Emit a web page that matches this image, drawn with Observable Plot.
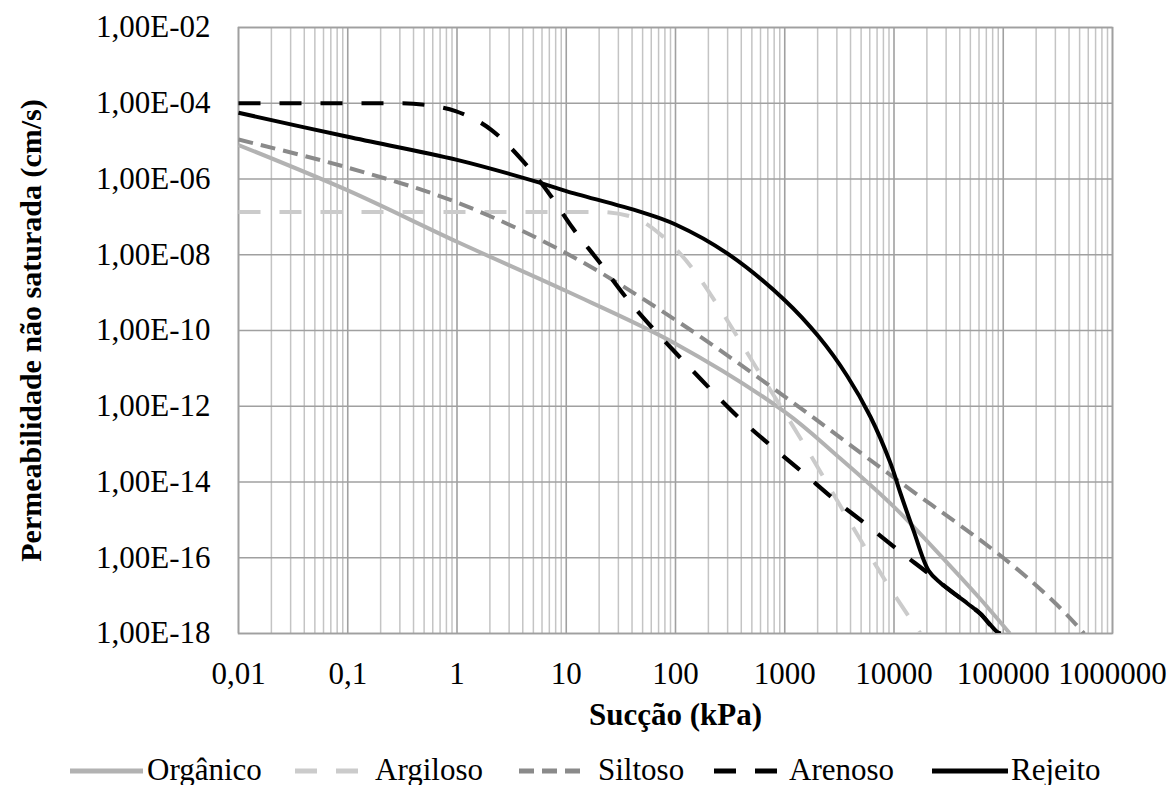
<!DOCTYPE html>
<html>
<head>
<meta charset="utf-8">
<script src="https://cdn.jsdelivr.net/npm/d3@7"></script>
<script src="https://cdn.jsdelivr.net/npm/@observablehq/plot@0.6"></script>
<style>
  html, body { margin: 0; padding: 0; background: #fff; }
  #chart { width: 1174px; }
  #legend { position: relative; width: 1174px; height: 40px; font-family: "Liberation Serif", "Times New Roman", serif; font-size: 31px; color: #000; }
  .item { position: absolute; top: 3px; height: 44px; display: flex; align-items: center; white-space: nowrap; }
  .item svg { position: relative; top: 1px; }
</style>
</head>
<body>
<div id="chart"></div>
<div id="legend"></div>
<script>
// ---- tick values and labels ----
const xTicks = [0.01, 0.1, 1, 10, 100, 1000, 10000, 100000, 1000000];
const xTickLabels = ["0,01", "0,1", "1", "10", "100", "1000", "10000", "100000", "1000000"];
const yTicks = [1e-2, 1e-4, 1e-6, 1e-8, 1e-10, 1e-12, 1e-14, 1e-16, 1e-18];
const yTickLabels = ["1,00E-02", "1,00E-04", "1,00E-06", "1,00E-08", "1,00E-10", "1,00E-12", "1,00E-14", "1,00E-16", "1,00E-18"];

// ---- series (suction kPa, permeability cm/s) ----
const seriesNames = ["Orgânico", "Argiloso", "Siltoso", "Arenoso", "Rejeito"];

const organicoX = [0.01, 0.1, 1, 10, 100, 1000, 3000, 10000, 30000, 60000, 115000];
const organicoY = [7.9e-6, 5.0e-7, 2.2e-8, 1.1e-9, 4.5e-11, 7.1e-13, 5.0e-14, 2.2e-15, 7.9e-17, 8.9e-18, 1e-18];

const argilosoX = [0.01, 20, 40, 75, 140, 230, 560, 1500, 3700, 9300, 17400];
const argilosoY = [1.35e-7, 1.35e-7, 1.0e-7, 3.2e-8, 4.7e-9, 5.9e-10, 9.5e-12, 1.0e-13, 1.2e-15, 1.5e-17, 1e-18];

const siltosoX = [0.01, 0.1, 1, 10, 100, 1000, 10000, 100000, 300000, 550000];
const siltosoY = [1.1e-5, 2.0e-6, 2.4e-7, 1.1e-8, 1.9e-10, 1.8e-12, 1.3e-14, 1.0e-16, 6.3e-18, 1e-18];

const arenosoX = [0.01, 0.3, 0.54, 0.97, 2.1, 4.0, 6.9, 11.5, 20, 34, 61, 111, 200, 380, 740, 1460, 2900, 5700, 11200, 21600, 27000, 47000, 62000, 88000, 95000];
const arenosoY = [1.0e-4, 1.0e-4, 8.9e-5, 6.2e-5, 1.9e-5, 3.0e-6, 4.3e-7, 5.0e-8, 6.5e-9, 8.5e-10, 1.2e-10, 1.9e-11, 3.2e-12, 5.0e-13, 9.3e-14, 1.8e-14, 3.3e-15, 7.2e-16, 1.5e-16, 3.5e-17, 2.1e-17, 6.2e-18, 3.3e-18, 1.1e-18, 1e-18];

const rejeitoX = [0.01, 0.1, 1, 5.8, 10, 48, 100, 300, 1000, 2050, 3730, 6100, 9300, 11500, 15100, 20800, 27000, 47000, 62000, 88000, 95000];
const rejeitoY = [5.6e-5, 1.3e-5, 3.2e-6, 7.9e-7, 4.8e-7, 1.35e-7, 6.3e-8, 1.07e-8, 6.3e-10, 6.8e-11, 6.3e-12, 5.2e-13, 3.1e-14, 4.9e-15, 5.2e-16, 4.5e-17, 2.1e-17, 6.2e-18, 3.3e-18, 1.1e-18, 1e-18];

// ---- styles ----
const styles = {
  "Orgânico": {stroke: "#b2b2b2", width: 4, dash: null, curve: "catmull-rom", sample: 73, gap: 4, left: 70},
  "Argiloso": {stroke: "#cbcbcb", width: 4, dash: "22,19", curve: "monotone-x", sample: 65, gap: 15, left: 295},
  "Siltoso":  {stroke: "#8a8a8a", width: 4, dash: "15,8", curve: "catmull-rom", sample: 64, gap: 15, left: 519},
  "Arenoso":  {stroke: "#000000", width: 4.2, dash: "22,19", curve: "monotone-x", sample: 63, gap: 12, left: 714},
  "Rejeito":  {stroke: "#000000", width: 4, dash: null, curve: "catmull-rom", sample: 76, gap: 3, left: 932}
};

const rawSeries = {
  "Orgânico": [organicoX, organicoY],
  "Argiloso": [argilosoX, argilosoY],
  "Siltoso": [siltosoX, siltosoY],
  "Arenoso": [arenosoX, arenosoY],
  "Rejeito": [rejeitoX, rejeitoY]
};
const tables = seriesNames.map(name => {
  const [xs, ys] = rawSeries[name];
  return {name, rows: xs.map((x, i) => ({x, y: ys[i]}))};
});

// minor vertical grid positions (2..9 per decade)
const minorX = d3.range(-2, 6).flatMap(e => d3.range(2, 10).map(k => k * Math.pow(10, e)));

const font = "'Liberation Serif', 'Times New Roman', serif";

const chart = Plot.plot({
  width: 1174,
  height: 745,
  marginLeft: 238,
  marginRight: 62,
  marginTop: 27,
  marginBottom: 112,
  style: {fontFamily: font, fontSize: "31px", color: "#000", background: "#fff", overflow: "visible"},
  x: {type: "log", domain: [0.01, 1000000]},
  y: {type: "log", domain: [1e-18, 1e-2]},
  marks: [
    Plot.ruleX(minorX, {stroke: "#c4c4c4", strokeWidth: 1.5}),
    Plot.ruleX(xTicks, {stroke: "#a0a0a0", strokeWidth: 1.6}),
    Plot.ruleY(yTicks, {stroke: "#a0a0a0", strokeWidth: 1.6}),
    Plot.frame({stroke: "#a0a0a0", strokeWidth: 1.6}),
    ...tables.map(t => Plot.line(t.rows, {
      x: "x", y: "y",
      stroke: styles[t.name].stroke,
      strokeWidth: styles[t.name].width,
      strokeDasharray: styles[t.name].dash,
      strokeLinecap: "butt",
      curve: styles[t.name].curve,
      clip: true
    })),
    Plot.axisX({ticks: xTicks, tickFormat: d => xTickLabels[xTicks.indexOf(d)], tickSize: 0, tickPadding: 28, label: null}),
    Plot.axisY({ticks: yTicks, tickFormat: d => yTickLabels[yTicks.indexOf(d)], tickSize: 0, tickPadding: 28, label: null}),
    Plot.text(["Sucção (kPa)"], {text: d => d, frameAnchor: "bottom", dy: 91, fontSize: 31, fontWeight: "bold"}),
    Plot.text(["Permeabilidade não saturada (cm/s)"], {text: d => d, frameAnchor: "left", textAnchor: "middle", rotate: -90, dx: -207, fontSize: 30, fontWeight: "bold"})
  ]
});
document.getElementById("chart").appendChild(chart);

// ---- legend ----
const legend = document.getElementById("legend");
seriesNames.forEach(name => {
  const s = styles[name];
  const item = document.createElement("div");
  item.className = "item";
  item.style.left = s.left + "px";
  const ns = "http://www.w3.org/2000/svg";
  const svg = document.createElementNS(ns, "svg");
  svg.setAttribute("width", s.sample);
  svg.setAttribute("height", 10);
  const line = document.createElementNS(ns, "line");
  line.setAttribute("x1", 0); line.setAttribute("x2", s.sample);
  line.setAttribute("y1", 5); line.setAttribute("y2", 5);
  line.setAttribute("stroke", s.stroke);
  line.setAttribute("stroke-width", s.width + 1);
  if (s.dash) line.setAttribute("stroke-dasharray", s.dash);
  svg.appendChild(line);
  const label = document.createElement("span");
  label.textContent = name;
  label.style.marginLeft = s.gap + "px";
  item.appendChild(svg);
  item.appendChild(label);
  legend.appendChild(item);
});
</script>
</body>
</html>
